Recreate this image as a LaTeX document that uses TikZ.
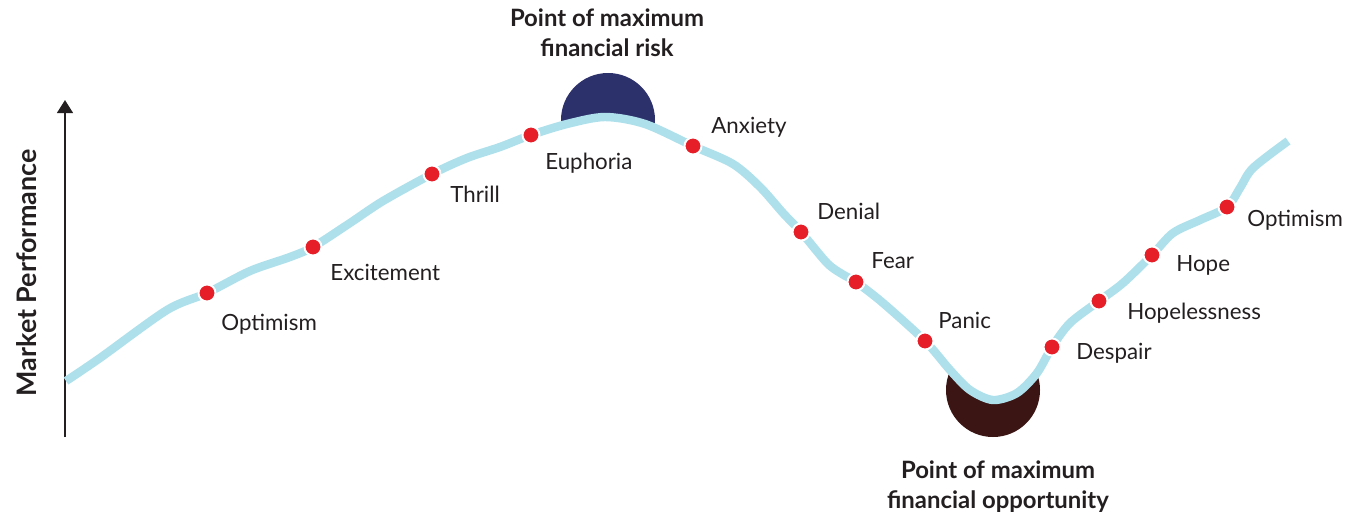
\documentclass[tikz,border=0pt]{standalone}
\usepackage{fontspec}
\setmainfont{Lato}
\usetikzlibrary{positioning,arrows.meta}
\tikzset{>=stealth}
\definecolor{ink}{RGB}{35,31,32}
\definecolor{curveblue}{RGB}{174,224,236}
\definecolor{dotred}{RGB}{230,30,40}
\definecolor{riskblue}{RGB}{44,49,107}
\definecolor{oppbrown}{RGB}{59,21,20}
\tikzset{
  stage/.style={anchor=base west, inner sep=0pt, text=ink, font=\fontsize{12.7}{15}\selectfont},
  extreme/.style={align=center, text=ink, font=\bfseries\fontsize{13.6}{17}\selectfont},
  dot/.style={fill=dotred, draw=white, line width=1.1pt},
}
\def\marketcurve{plot[smooth, tension=.5] coordinates {(66,381) (100,358) (167,310) (opt) (250,271) (290,257) (exc) (350,223) (383,201) (thr) (467,158) (500,147) (eup) (567,124) (605,117) (645,124) (anx) (733,164) (760,187) (783,213) (den) (827,263) (842,274) (fear) (883,303) (pan) (950,370) (970,390) (993,400) (1017,393) (1037,373) (des) (1070,323) (hopl) (1123,283) (hope) (1173,233) (1200,220) (opt2) (1240,188) (1253,168) (1288,141)}}

\begin{document}
\begin{tikzpicture}[x=0.02cm, y=-0.02cm]
\useasboundingbox (0,0) rectangle (1364,517);
% stages along the cycle
\coordinate (opt) at (207,293);
\coordinate (exc) at (313,247);
\coordinate (thr) at (432,174);
\coordinate (eup) at (531,135);
\coordinate (anx) at (693,146);
\coordinate (den) at (801,232);
\coordinate (fear) at (856,282);
\coordinate (pan) at (925,341);
\coordinate (des) at (1052,347);
\coordinate (hopl) at (1099,301);
\coordinate (hope) at (1152,255);
\coordinate (opt2) at (1227,207);
% axis
\draw[line width=1.4pt, ink, -{Triangle[length=7.5pt,width=9pt]}] (65,437) coordinate (axbot) -- (65,100) coordinate (axtop);
\node[rotate=90, text=ink, font=\bfseries\fontsize{15.3}{18}\selectfont] (perf) at (27,273) {Market Performance};
% half discs at top and bottom
\begin{scope}
\clip \marketcurve -- (1288,0) -- (66,0) -- cycle;
\fill[riskblue] (608,120) coordinate (peak) circle (47);
\end{scope}
\begin{scope}
\clip \marketcurve -- (1288,517) -- (66,517) -- cycle;
\fill[oppbrown] (993,390) coordinate (trough) circle (47);
\end{scope}
\draw[curveblue, line width=4.8pt] \marketcurve;
\path[dot] (opt) circle (8.5);
\path[dot] (exc) circle (8.5);
\path[dot] (thr) circle (8.5);
\path[dot] (eup) circle (8.5);
\path[dot] (anx) circle (8.5);
\path[dot] (den) circle (8.5);
\path[dot] (fear) circle (8.5);
\path[dot] (pan) circle (8.5);
\path[dot] (des) circle (8.5);
\path[dot] (hopl) circle (8.5);
\path[dot] (hope) circle (8.5);
\path[dot] (opt2) circle (8.5);
% labels
\node[stage] (optlbl) at ([shift={(14,37)}]opt) {Optimism};
\node[stage] (exclbl) at ([shift={(17,33)}]exc) {Excitement};
\node[stage] (thrlbl) at ([shift={(18,28)}]thr) {Thrill};
\node[stage] (euplbl) at ([shift={(14,34)}]eup) {Euphoria};
\node[stage] (anxlbl) at ([shift={(18,-13)}]anx) {Anxiety};
\node[stage] (denlbl) at ([shift={(16,-13)}]den) {Denial};
\node[stage] (fearlbl) at ([shift={(15,-14)}]fear) {Fear};
\node[stage] (panlbl) at ([shift={(13,-13)}]pan) {Panic};
\node[stage] (deslbl) at ([shift={(24,12)}]des) {Despair};
\node[stage] (hopllbl) at ([shift={(28,18)}]hopl) {Hopelessness};
\node[stage] (hopelbl) at ([shift={(24,16)}]hope) {Hope};
\node[stage] (opt2lbl) at ([shift={(20,19)}]opt2) {Optimism};
\node[extreme] (risklbl) at (607,33) {Point of maximum\\financial risk};
\node[extreme] (opplbl) at (998,487) {Point of maximum\\financial opportunity};
\end{tikzpicture}
\end{document}
